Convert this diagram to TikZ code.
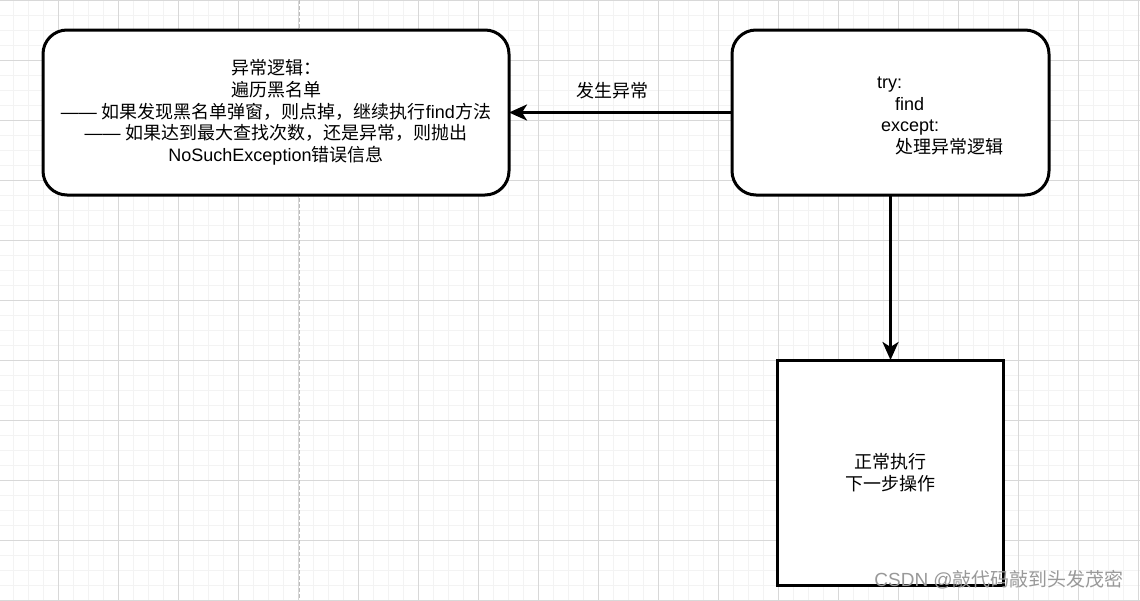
\documentclass[tikz,border=0pt]{standalone}
\usepackage{fontspec}
\setmainfont{Liberation Sans}
\newfontfamily\cjk{Noto Sans CJK SC}
\newcommand{\zh}[1]{{\cjk #1}}
\usetikzlibrary{arrows.meta}
\definecolor{gridminor}{HTML}{F3F3F3}
\definecolor{gridmajor}{HTML}{D8D8D8}
\definecolor{pageline}{HTML}{BDBDBD}
\tikzset{
  flowbox/.style={draw=black, line width=3pt, fill=white, inner sep=0pt, outer sep=0pt,
    align=center, font=\fontsize{18}{21.7}\selectfont},
  flowround/.style={flowbox, rounded corners=24pt},
  flowtext/.style={align=left, inner sep=0pt, font=\fontsize{18}{21.7}\selectfont},
  flowarrow/.style={-{Stealth[length=18pt, width=16pt, inset=5pt]}, line width=3pt, draw=black},
  gridmin/.style={draw=gridminor, line width=1pt},
  gridmaj/.style={draw=gridmajor, line width=1pt},
  markText/.style={text=black!40, inner sep=0pt, font=\fontsize{19}{19}\selectfont}
}

\begin{document}
\begin{tikzpicture}[x=1pt, y=-1pt]
  \useasboundingbox (0,0) rectangle (1140,600);
  \fill[white] (0,0) rectangle (1140,600);
  \foreach \gx in {0,...,75} \draw[gridmin] ({13.3+15*\gx},0) -- ++(0,600);
  \foreach \gy in {0,...,40} \draw[gridmin] (0,{15*\gy}) -- ++(1140,0);
  \foreach \gx in {0,...,18} \draw[gridmaj] ({58.3+60*\gx},0) -- ++(0,600);
  \foreach \gy in {0,...,10} \draw[gridmaj] (0,{60*\gy}) -- ++(1140,0);
  \draw[pageline, line width=1pt, dash pattern=on 4pt off 2pt] (299.3,0) -- (299.3,600);

  \node[flowround, minimum width=466pt, minimum height=165pt] (errbox) at (276,112.5)
    {\zh{异常逻辑：}\\\zh{遍历黑名单}\\——\ \zh{如果发现黑名单弹窗，则点掉，继续执行}find\zh{方法}\\——\ \zh{如果达到最大查找次数，还是异常，则抛出}\\NoSuchException\zh{错误信息}};
  \node[flowround, minimum width=317pt, minimum height=165pt] (trybox) at (890.5,112.5) {};
  \node[flowtext, anchor=west] (trytext) at (877,116)
    {try:\\\hspace*{18pt}find\\\hspace*{4pt}except:\\\hspace*{18pt}\zh{处理异常逻辑}};
  \node[flowbox, minimum width=226pt, minimum height=225pt] (nextbox) at (890.5,472.5)
    {\zh{正常执行}\\\zh{下一步操作}};

  \draw[flowarrow] (trybox.west) -- node[pos=0.534, above=12pt, flowtext] (errlabel) {\zh{发生异常}} (errbox.east);
  \draw[flowarrow] (trybox.south) -- (nextbox.north);

  \node[markText, anchor=east] (mark) at (1124,580) {CSDN @\zh{敲代码敲到头发茂密}};
\end{tikzpicture}
\end{document}
